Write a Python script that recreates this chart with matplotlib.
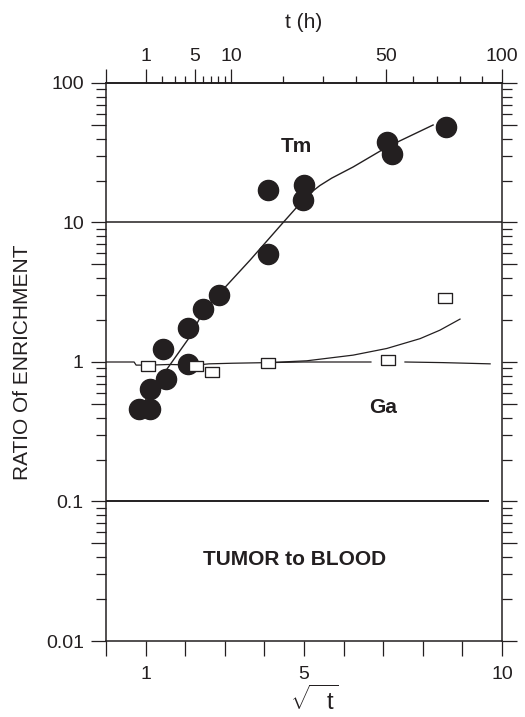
import numpy as np
import matplotlib
matplotlib.use("Agg")
import matplotlib.pyplot as plt

plt.rcParams["font.family"] = ["Liberation Sans", "DejaVu Sans"]
plt.rcParams["mathtext.fontset"] = "custom"
plt.rcParams["mathtext.rm"] = "Liberation Sans"

INK = "#231f20"

# ── data (x = sqrt(t), y = tumor/blood ratio) ────────────────────────────────
tm_x = [0.84, 1.11, 1.11, 1.52, 1.45, 2.06, 2.06, 2.44, 2.85,
        4.10, 4.10, 5.00, 4.98, 7.09, 7.21, 8.58]
tm_y = [0.46, 0.46, 0.64, 0.75, 1.24, 0.96, 1.75, 2.39, 3.00,
        5.9, 17.1, 18.6, 14.5, 37.9, 31.0, 48.1]

tm_fit_x = [0.91, 1.49, 2.12, 2.45, 2.85, 3.64, 4.46, 4.98, 5.15, 5.40,
            5.70, 6.24, 7.10, 8.26]
tm_fit_y = [0.49, 0.85, 1.52, 2.28, 3.07, 5.38, 9.9, 14.5, 16.2, 18.4,
            20.8, 25.0, 34.8, 50.0]

ga_x = [1.07, 2.27, 2.67, 4.10, 7.13, 8.56]
ga_y = [0.94, 0.94, 0.85, 0.99, 1.03, 2.89]

ga_flat_x_a = [0.0, 0.71, 0.76, 1.11, 1.60, 2.27, 2.60, 3.20, 4.10, 5.00, 6.00, 6.69]
ga_flat_y_a = [1.0, 1.0, 0.95, 0.95, 0.96, 0.95, 0.97, 0.98, 0.99, 1.0, 1.0, 1.0]
ga_flat_x_b = [7.55, 8.50, 9.70]
ga_flat_y_b = [1.0, 0.99, 0.97]

ga_rise_x = [4.10, 5.07, 6.24, 7.09, 7.93, 8.43, 8.94]
ga_rise_y = [0.99, 1.02, 1.12, 1.25, 1.47, 1.69, 2.03]

ref_levels = [10, 0.1]

top_major_t = [0, 1, 5, 10, 50, 100]
top_major_lbl = ["", "1", "5", "10", "50", "100"]
top_minor_t = [2, 3, 4, 6, 7, 8, 9, 20, 30, 40, 60, 70, 80, 90]

bot_ticks = list(range(0, 11))
bot_lbl = ["" if v not in (1, 5, 10) else str(v) for v in bot_ticks]

y_major = [0.01, 0.05, 0.1, 0.5, 1, 5, 10, 50, 100]
y_major_lbl = ["0.01", "", "0.1", "", "1", "", "10", "", "100"]
y_minor = [m * 10.0 ** e for e in range(-2, 2) for m in (2, 3, 4, 6, 7, 8, 9)]

# ── figure ───────────────────────────────────────────────────────────────────
W, H = 525, 717
fig = plt.figure(figsize=(W / 100, H / 100), dpi=100)
L, R, T, B = 106, 502, 83, 641
ax = fig.add_axes([L / W, 1 - B / H, (R - L) / W, (B - T) / H])

ax.set_yscale("log")
ax.set_xlim(0, 10)
ax.set_ylim(0.01, 100)

for s in ax.spines.values():
    s.set_linewidth(1.1)
    s.set_color(INK)

# reference lines
ax.axhline(ref_levels[0], color=INK, lw=1.1, zorder=1)
ax.hlines(ref_levels[1], 0, 9.67, color=INK, lw=1.4, zorder=1)

# Ga curves
ax.plot(ga_flat_x_a, ga_flat_y_a, color=INK, lw=0.9, zorder=2)
ax.plot(ga_flat_x_b, ga_flat_y_b, color=INK, lw=0.9, zorder=2)
ax.plot(ga_rise_x, ga_rise_y, color=INK, lw=0.9, zorder=2)

# Tm fit + points
ax.plot(tm_fit_x, tm_fit_y, color=INK, lw=1.0, zorder=3)
ax.plot(tm_x, tm_y, "o", color=INK, ms=14.5, mec=INK, zorder=4)

rect = [(-1, -0.69), (1, -0.69), (1, 0.69), (-1, 0.69), (-1, -0.69)]
ax.plot(ga_x, ga_y, linestyle="none", marker=rect, ms=10, mfc="white",
        mec=INK, mew=0.95, zorder=5)

ax.text(4.80, 34.9, "Tm", fontsize=15, fontweight="bold", color=INK,
        ha="center", va="center")
ax.text(7.00, 0.47, "Ga", fontsize=15, fontweight="bold", color=INK,
        ha="center", va="center")
ax.text(4.77, 0.0385, "TUMOR to BLOOD", fontsize=15, fontweight="bold",
        color=INK, ha="center", va="center")

# ── y ticks (both sides, outward) ────────────────────────────────────────────
ax.set_yticks(y_major)
ax.set_yticklabels(y_major_lbl)
ax.set_yticks(y_minor, minor=True)
ax.yaxis.set_minor_formatter(matplotlib.ticker.NullFormatter())
ax.tick_params(axis="y", which="major", direction="out", length=11,
               width=0.9, labelsize=14, pad=5, colors=INK,
               left=True, right=True)
ax.tick_params(axis="y", which="minor", direction="out", length=7.5,
               width=0.9, left=True, right=True, colors=INK)

# ── bottom x ticks ───────────────────────────────────────────────────────────
ax.set_xticks(bot_ticks)
ax.set_xticklabels(bot_lbl)
ax.tick_params(axis="x", which="major", direction="out", length=11,
               width=0.9, labelsize=14, pad=7, colors=INK)

# ── top axis: t (h) ──────────────────────────────────────────────────────────
top = ax.secondary_xaxis("top", functions=(lambda x: np.square(x),
                                           lambda t: np.sqrt(np.clip(t, 0, None))))
top.set_xticks(top_major_t)
top.set_xticklabels(top_major_lbl)
top.set_xticks(top_minor_t, minor=True)
top.xaxis.set_minor_formatter(matplotlib.ticker.NullFormatter())
top.tick_params(axis="x", which="major", direction="out", length=10,
                width=0.9, labelsize=14, pad=3, colors=INK)
top.tick_params(axis="x", which="minor", direction="out", length=5,
                width=0.9, colors=INK)
top.spines["top"].set_linewidth(1.1)

# ── axis titles ──────────────────────────────────────────────────────────────
fig.text(23 / W, 1 - 362 / H, "RATIO Of ENRICHMENT", rotation=90,
         ha="center", va="center", fontsize=15, color=INK)
fig.text(304 / W, 1 - 23 / H, "t (h)", ha="center", va="center",
         fontsize=15, color=INK)
fig.text(314 / W, 1 - 700 / H, r"$\sqrt{\ \ \mathrm{t}}$", ha="center",
         va="center", fontsize=17, color=INK)

fig.savefig("out.png", dpi=100)
